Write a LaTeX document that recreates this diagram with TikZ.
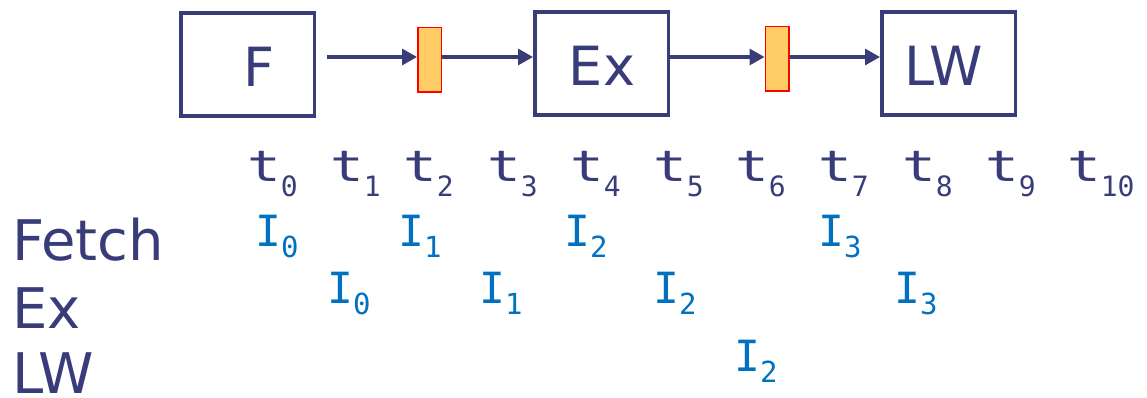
\documentclass[tikz,border=0pt]{standalone}
\usepackage{fontspec}
\setmainfont{DejaVu Sans}
\newfontfamily\monofont{DejaVu Sans Mono}
\usetikzlibrary{arrows.meta}

\definecolor{navy}{RGB}{56,61,122}
\definecolor{iblue}{RGB}{0,112,192}
\definecolor{latchfill}{RGB}{255,204,102}

% clock tick t_k and instruction I_k, subscript set below the baseline
\newcommand{\tick}[1]{\scalebox{1.3}[1]{t}\raisebox{-15pt}{\fontsize{28}{28}\selectfont #1}}
\newcommand{\instr}[1]{I\raisebox{-11pt}{\fontsize{29}{29}\selectfont #1}}

\tikzset{
  stage/.style={draw=navy, line width=3.5pt, minimum width=133.5pt,
                minimum height=103pt, inner sep=0pt},
  stagetxt/.style={text=navy, font=\fontsize{54}{60}\selectfont,
                   inner sep=0pt, anchor=base},
  latch/.style={draw=red, fill=latchfill, line width=1.5pt,
                minimum width=23.5pt, minimum height=64.5pt, inner sep=0pt},
  conn/.style={draw=navy, line width=3.3pt,
               -{Triangle[length=15pt,width=16pt]}},
  rowlab/.style={text=navy, font=\fontsize{56}{60}\selectfont,
                 inner sep=0pt, anchor=base west},
  ticklab/.style={text=navy, font=\monofont\fontsize{43}{46}\selectfont,
                  inner sep=0pt, anchor=base west},
  instrlab/.style={text=iblue, font=\monofont\fontsize{43}{46}\selectfont,
                   inner sep=0pt, anchor=base west},
}

\begin{document}
\begin{tikzpicture}[x=1pt, y=-1pt]
\useasboundingbox (0,0) rectangle (1147,398);

% pipeline stages and latches
\node[stage] (F)  at (247.5,64.5) {};
\node[stage] (Ex) at (601.5,63.5) {};
\node[stage] (LW) at (948.5,63.5) {};
\node[stagetxt] (Ftxt)  at (259,87) {F};
\node[stagetxt] (Extxt) at (602,86) {Ex};
\node[stagetxt] (LWtxt) at (944,86) {LW};

\node[latch] (L1) at (429.5,60) {};
\node[latch] (L2) at (777,59) {};

% data path
\coordinate (a1) at ([yshift=3pt]L1.west);
\coordinate (a2) at ([yshift=2pt]L2.west);
\draw[conn, shorten <=11pt] (F.east |- a1) -- (a1);
\draw[conn] (L1.east |- a1) -- (Ex.west |- a1);
\draw[conn] (Ex.east |- a2) -- (a2);
\draw[conn] (L2.east |- a2) -- (LW.west |- a2);

% clock ticks
\node[ticklab] (t0)  at (247,182)  {\tick{0}};
\node[ticklab] (t1)  at (330,182)  {\tick{1}};
\node[ticklab] (t2)  at (403,182)  {\tick{2}};
\node[ticklab] (t3)  at (487,182)  {\tick{3}};
\node[ticklab] (t4)  at (570,182)  {\tick{4}};
\node[ticklab] (t5)  at (653,182)  {\tick{5}};
\node[ticklab] (t6)  at (735,182)  {\tick{6}};
\node[ticklab] (t7)  at (818,182)  {\tick{7}};
\node[ticklab] (t8)  at (902,182)  {\tick{8}};
\node[ticklab] (t9)  at (985,182)  {\tick{9}};
\node[ticklab] (t10) at (1067,182) {\tick{10}};

% row labels
\node[rowlab] (rF)  at (12,260) {Fetch};
\node[rowlab] (rEx) at (12,328) {Ex};
\node[rowlab] (rLW) at (12,393) {LW};

% instructions in flight
\node[instrlab] (f0) at (255,246) {\instr{0}};
\node[instrlab] (f1) at (398,246) {\instr{1}};
\node[instrlab] (f2) at (564,246) {\instr{2}};
\node[instrlab] (f3) at (818,246) {\instr{3}};
\node[instrlab] (e0) at (327,303) {\instr{0}};
\node[instrlab] (e1) at (479,303) {\instr{1}};
\node[instrlab] (e2) at (653,303) {\instr{2}};
\node[instrlab] (e3) at (894,303) {\instr{3}};
\node[instrlab] (w2) at (734,371) {\instr{2}};
\end{tikzpicture}
\end{document}
